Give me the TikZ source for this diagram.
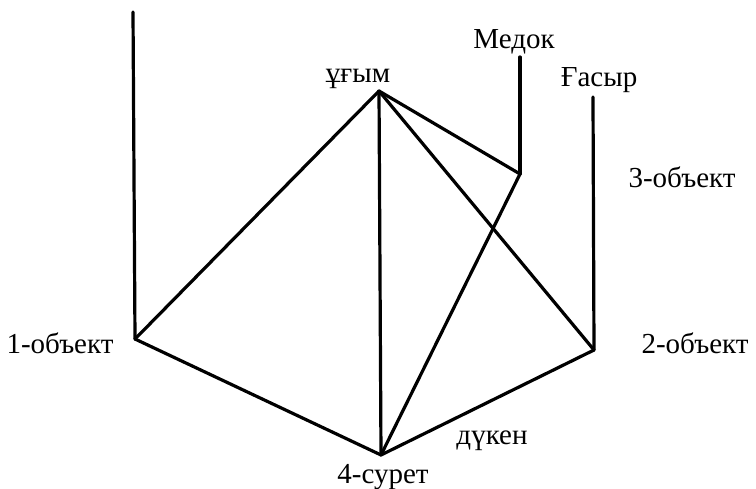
\documentclass[tikz,border=0pt]{standalone}
\usepackage{fontspec}
\setmainfont{Liberation Serif}
\begin{document}
\begin{tikzpicture}[x=1pt,y=-1pt,
  edge/.style={line width=3.2pt,line cap=round,line join=round},
  lbl/.style={font=\fontsize{29}{32}\selectfont,inner sep=0pt}]
\useasboundingbox (0,0) rectangle (756,489);
% points
\coordinate (top1) at (133,12);
\coordinate (o1) at (135,339);
\coordinate (apex) at (379,91);
\coordinate (medtop) at (520,57);
\coordinate (med) at (520,174);
\coordinate (gastop) at (593,97);
\coordinate (o2) at (594,350);
\coordinate (s4) at (381,455);
% lines
\draw[edge] (top1) -- (o1);
\draw[edge] (medtop) -- (med);
\draw[edge] (gastop) -- (o2);
\draw[edge] (apex) -- (o1);
\draw[edge] (apex) -- (s4);
\draw[edge] (apex) -- (med);
\draw[edge] (apex) -- (o2);
\draw[edge] (med) -- (s4);
\draw[edge] (o1) -- (s4) -- (o2);
% labels
\node[lbl] (lugym) at (358,79) {ұғым};
\node[lbl] (lmed) at (514,42) {Медок};
\node[lbl] (lgas) at (599,80) {Ғасыр};
\node[lbl] (l3) at (682,177) {3-объект};
\node[lbl] (l1) at (60,343) {1-объект};
\node[lbl] (l2) at (695,343) {2-объект};
\node[lbl] (ldk) at (492,441) {дүкен};
\node[lbl] (l4) at (383,477) {4-сурет};
\end{tikzpicture}
\end{document}
